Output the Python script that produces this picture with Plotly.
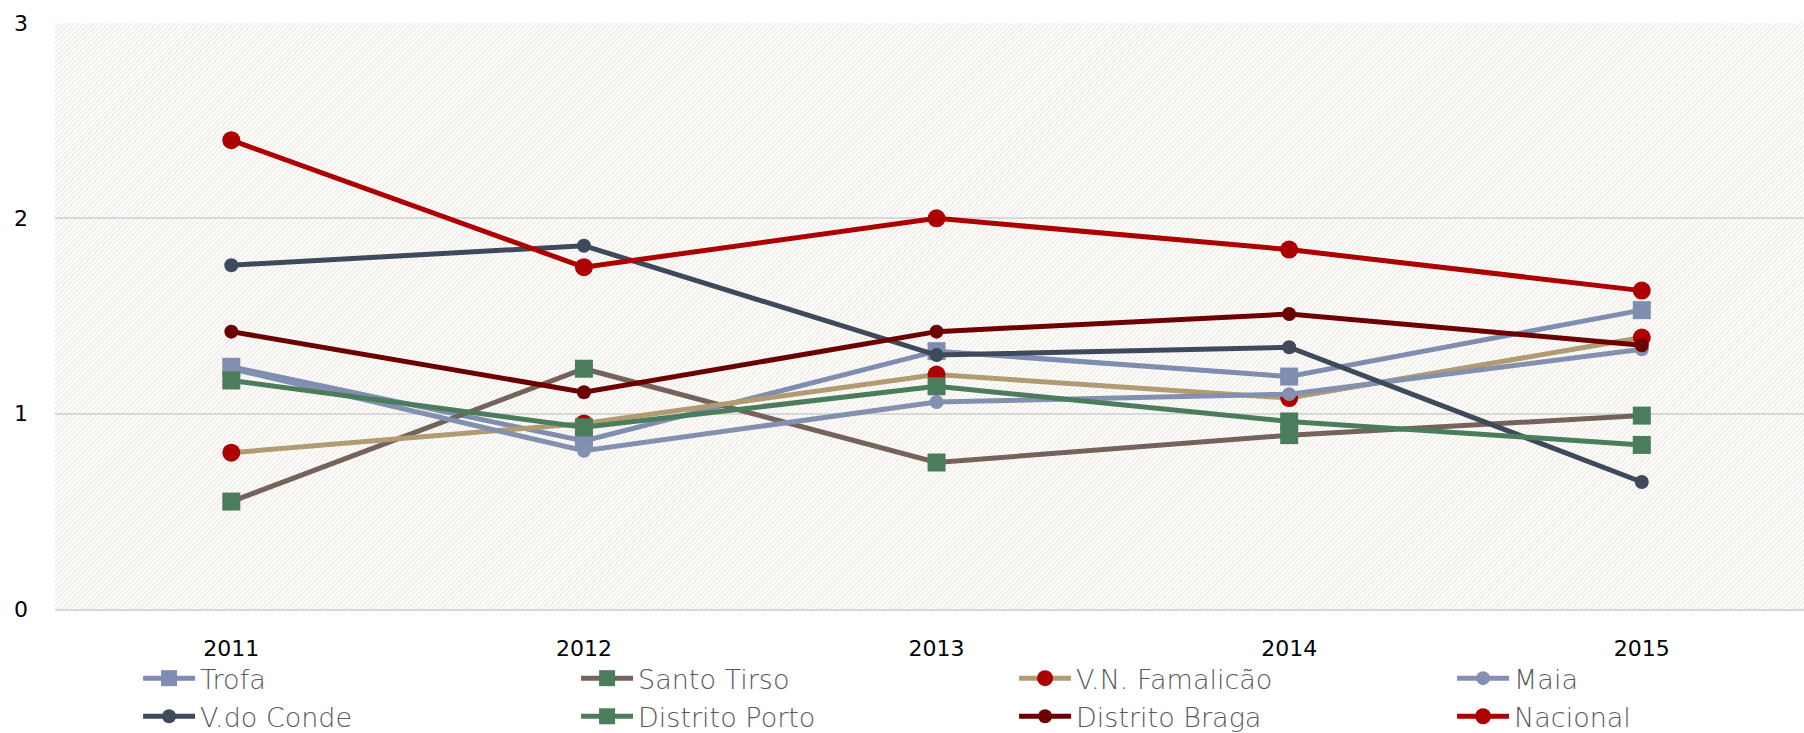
import urllib.parse
import plotly.graph_objects as go

# Anos e séries (índice por concelho / distrito)
anos = ["2011", "2012", "2013", "2014", "2015"]

trofa = [1.24, 0.86, 1.32, 1.19, 1.53]
santo_tirso = [0.55, 1.23, 0.75, 0.89, 0.99]
vn_famalicao = [0.80, 0.95, 1.20, 1.08, 1.39]
maia = [1.23, 0.81, 1.06, 1.10, 1.33]
vdo_conde = [1.76, 1.86, 1.30, 1.34, 0.65]
distrito_porto = [1.17, 0.93, 1.14, 0.96, 0.84]
distrito_braga = [1.42, 1.11, 1.42, 1.51, 1.35]
nacional = [2.40, 1.75, 2.00, 1.84, 1.63]

series = [
    ("Trofa", trofa, "#7f8db0", "#7f8db0", "square", 18),
    ("Santo Tirso", santo_tirso, "#75625a", "#4b7d5c", "square", 18),
    ("V.N. Famalicão", vn_famalicao, "#b19b72", "#ad0000", "circle", 18),
    ("Maia", maia, "#8390b0", "#8390b0", "circle", 14),
    ("V.do Conde", vdo_conde, "#3e4a5b", "#3e4a5b", "circle", 14),
    ("Distrito Porto", distrito_porto, "#4b7d5c", "#4b7d5c", "square", 18),
    ("Distrito Braga", distrito_braga, "#6c0000", "#6c0000", "circle", 14),
    ("Nacional", nacional, "#ad0000", "#ad0000", "circle", 18),
]

FONTE = "DejaVu Sans, sans-serif"

fig = go.Figure()
for nome, vals, cor_linha, cor_marca, simbolo, tam in series:
    fig.add_trace(go.Scatter(
        x=anos, y=vals, name=nome, mode="lines+markers",
        line=dict(color=cor_linha, width=5),
        marker=dict(color=cor_marca, symbol=simbolo, size=tam, line=dict(width=0)),
    ))

# Fundo tracejado da área do gráfico
hatch_svg = (
    "<svg xmlns='http://www.w3.org/2000/svg' width='1749' height='586'>"
    "<defs><pattern id='h' width='3.4' height='3.4' patternUnits='userSpaceOnUse' "
    "patternTransform='rotate(45)'>"
    "<rect x='0' y='0' width='1.2' height='3.4' fill='#ebe7df'/></pattern></defs>"
    "<rect width='100%' height='100%' fill='#ffffff'/>"
    "<rect width='100%' height='100%' fill='url(#h)'/></svg>"
)
hatch_uri = "data:image/svg+xml;charset=utf-8," + urllib.parse.quote(hatch_svg)

fig.update_layout(
    width=1804, height=733,
    margin=dict(l=55, r=0, t=23, b=124, autoexpand=False),
    paper_bgcolor="white",
    plot_bgcolor="white",
    font=dict(family=FONTE, color="#000000"),
    showlegend=True,
    legend=dict(
        orientation="h",
        x=0.0475, xanchor="left",
        y=-0.077, yanchor="top",
        entrywidth=371, entrywidthmode="pixels",
        itemwidth=52,
        font=dict(size=27, color="#595959", family=FONTE, weight=200),
        bgcolor="rgba(0,0,0,0)",
        tracegroupgap=0,
        traceorder="normal",
    ),
    images=[dict(
        source=hatch_uri, xref="paper", yref="paper",
        x=0, y=1, sizex=1, sizey=1, sizing="stretch",
        xanchor="left", yanchor="top", layer="below",
    )],
)

fig.update_xaxes(
    type="category",
    range=[-0.5, 4.46],
    showgrid=False, zeroline=False,
    showline=True, linecolor="#d9d9d9", linewidth=2,
    ticks="", ticklabelstandoff=19,
    tickfont=dict(size=22, color="#000000", family=FONTE),
)
fig.update_yaxes(
    range=[0, 3], dtick=1, tick0=0,
    showgrid=True, gridcolor="#d9d9d9", gridwidth=2,
    zeroline=False, showline=False,
    ticks="", ticklabelstandoff=26,
    tickfont=dict(size=22, color="#000000", family=FONTE),
)

fig.write_html("out.html")
